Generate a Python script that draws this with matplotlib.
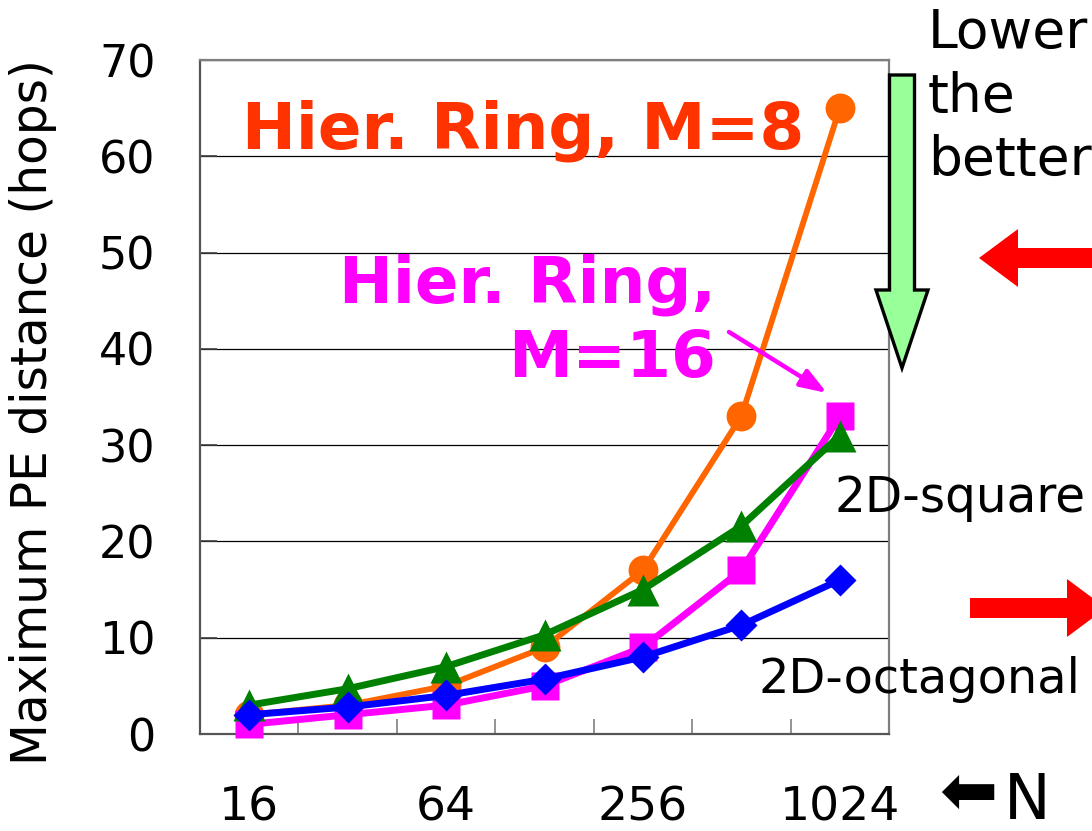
import matplotlib
matplotlib.use("Agg")
import matplotlib.pyplot as plt
import numpy as np
from matplotlib.patches import Polygon, FancyArrowPatch
from matplotlib.transforms import Affine2D

# Number of PEs (category axis) and which of them get a printed label
node_counts = ["16", "32", "64", "128", "256", "512", "1024"]
shown_labels = ["16", "", "64", "", "256", "", "1024"]

# Maximum PE distance in hops for each topology
hier_ring_m8 = [2, 3, 5, 9, 17, 33, 65]
hier_ring_m16 = [1, 2, 3, 5, 9, 17, 33]
mesh_2d_square = [3, 4.7, 7, 10.3, 15, 21.6, 31]
mesh_2d_octagonal = [2, 2.8, 4, 5.7, 8, 11.3, 16]

y_ticks = [0, 10, 20, 30, 40, 50, 60, 70]

plt.rcParams["font.family"] = ["DejaVu Sans"]

W, H = 1092, 831
fig = plt.figure(figsize=(W / 100, H / 100), dpi=100)
fig.patch.set_facecolor("white")
ax = fig.add_axes([200 / W, 1 - 734 / H, 689 / W, 674 / H])

# pixel coordinates measured from the top-left corner of the figure
px = Affine2D().scale(1 / W, -1 / H).translate(0, 1) + fig.transFigure

x = np.arange(len(node_counts))
ax.plot(x, hier_ring_m8, color="#FF6600", lw=4.2, marker="o", ms=21.5,
        mec="none", clip_on=False, zorder=3)
ax.plot(x, hier_ring_m16, color="#FF00FF", lw=5, marker="s", ms=20,
        mec="none", clip_on=False, zorder=4)
ax.plot(x, mesh_2d_square, color="#008000", lw=5, marker="^", ms=23,
        mec="none", clip_on=False, zorder=5)
ax.plot(x, mesh_2d_octagonal, color="#0000FF", lw=5, marker="D", ms=16.5,
        mec="none", clip_on=False, zorder=6)

ax.set_xlim(-0.5, len(node_counts) - 0.5)
ax.set_ylim(0, 70)
ax.set_xticks(x)
ax.set_xticklabels(shown_labels)
ax.set_xticks(np.arange(-0.5, len(node_counts), 1.0), minor=True)
ax.tick_params(axis="x", which="major", length=0, pad=37, labelsize=34)
ax.tick_params(axis="x", which="minor", direction="in", length=11,
               width=1.2, color="#808080")
ax.set_yticks(y_ticks)
ax.tick_params(axis="y", direction="in", length=12, width=1.2,
               color="#404040", pad=32, labelsize=32)
ax.yaxis.grid(True, color="black", lw=0.9)
ax.set_axisbelow(True)
for side, sp in ax.spines.items():
    sp.set_color("#7f7f7f" if side in ("top", "right") else "#555555")
    sp.set_linewidth(1.6)

fig.text(33, 412, "Maximum PE distance (hops)", transform=px, rotation=90,
         ha="center", va="center", fontsize=35)

# Series labels
fig.text(242, 148, "Hier. Ring, M=8", transform=px, color="#FF3300",
         fontsize=46.4, fontweight="bold", ha="left", va="baseline", zorder=10)
fig.text(716, 302, "Hier. Ring,", transform=px, color="#FF00FF",
         fontsize=46.4, fontweight="bold", ha="right", va="baseline", zorder=10)
fig.text(716, 377, "M=16", transform=px, color="#FF00FF",
         fontsize=46.4, fontweight="bold", ha="right", va="baseline", zorder=10)
fig.add_artist(FancyArrowPatch((729, 332), (827, 393), transform=px,
                               arrowstyle="-|>,head_length=1.0,head_width=0.36",
                               mutation_scale=16, lw=3.2, color="#FF00FF",
                               shrinkA=0, shrinkB=0, zorder=10))
fig.text(835, 512, "2D-square", transform=px, fontsize=35,
         ha="left", va="baseline")
fig.text(759, 693, "2D-octagonal", transform=px, fontsize=34.5,
         ha="left", va="baseline")

# "Lower the better" note with its down arrow
for word, base in zip(["Lower", "the", "better"], [48, 112, 175]):
    fig.text(928, base, word, transform=px, fontsize=38.5,
             ha="left", va="baseline")
down_arrow = [(889.5, 75), (914.5, 75), (914.5, 290), (928, 290),
              (902, 368), (876, 290), (889.5, 290)]
fig.add_artist(Polygon(down_arrow, closed=True, transform=px,
                       facecolor="#99FF99", edgecolor="black", lw=2.4,
                       zorder=8))

# Red pointer arrows on the right margin
left_arrow = [(979, 258), (1018, 229), (1018, 248), (1100, 248),
              (1100, 268), (1018, 268), (1018, 287)]
right_arrow = [(970, 598), (1067, 598), (1067, 579), (1106, 608),
               (1067, 637), (1067, 618), (970, 618)]
for pts in (left_arrow, right_arrow):
    fig.add_artist(Polygon(pts, closed=True, transform=px,
                           facecolor="#FF0000", edgecolor="none", zorder=8))

# Axis name for the PE count
fig.text(939, 814, "\u2B05", transform=px, fontsize=50,
         ha="left", va="baseline")
fig.text(1004, 819, "N", transform=px, fontsize=45,
         ha="left", va="baseline")

fig.savefig("out.png", dpi=100, facecolor="white")
